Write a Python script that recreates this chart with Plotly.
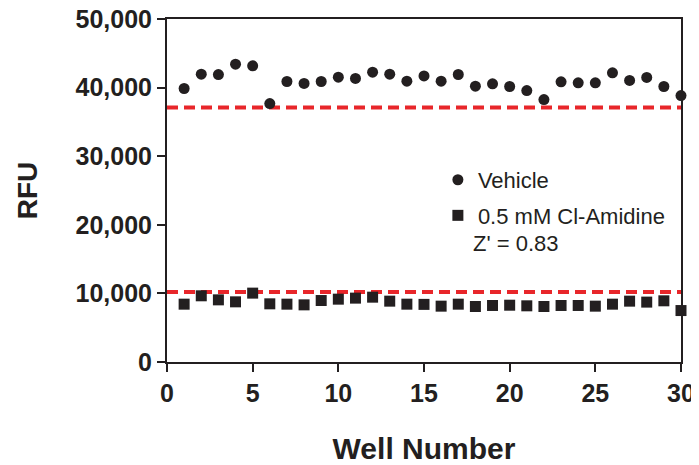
import plotly.graph_objects as go

wells = list(range(1, 31))
vehicle = [39870, 41960, 41900, 43420, 43170, 37670, 40890, 40600, 40890, 41520,
           41330, 42250, 41960, 40940, 41700, 40940, 41910, 40200, 40550, 40160,
           39570, 38250, 40840, 40690, 40690, 42150, 41040, 41480, 40160, 38840]
cl_amidine = [8430, 9650, 9060, 8770, 10040, 8480, 8430, 8330, 8960, 9160,
              9310, 9450, 8870, 8430, 8400, 8140, 8430, 8090, 8240, 8280,
              8190, 8090, 8240, 8240, 8140, 8430, 8870, 8730, 8920, 7500]
vehicle_cutoff = 37100
inhibitor_cutoff = 10200
x_span = [0, 30]
y_ticks = [0, 10000, 20000, 30000, 40000, 50000]
y_tick_labels = ["0", "10,000", "20,000", "30,000", "40,000", "50,000"]
x_ticks = [0, 5, 10, 15, 20, 25, 30]

ink = "#231f20"
red = "#e8262a"
font = "Liberation Sans"

fig = go.Figure()
for yv in (vehicle_cutoff, inhibitor_cutoff):
    fig.add_trace(go.Scatter(x=x_span, y=[yv, yv], mode="lines",
                             line=dict(color=red, width=4, dash="11px,6px"),
                             showlegend=False, hoverinfo="skip", cliponaxis=False))
fig.add_trace(go.Scatter(x=wells, y=vehicle, mode="markers", name="Vehicle",
                         legendgroup="a",
                         marker=dict(symbol="circle", size=11, color=ink),
                         cliponaxis=False))
fig.add_trace(go.Scatter(x=wells, y=cl_amidine, mode="markers", name="0.5 mM Cl-Amidine",
                         legendgroup="b",
                         marker=dict(symbol="square", size=11, color=ink),
                         cliponaxis=False))

# the page adds an 8px body margin, so the figure is sized to fill the rest
fig.update_layout(
    width=691, height=457,
    margin=dict(l=159, r=18, t=11, b=103, autoexpand=False),
    paper_bgcolor="white", plot_bgcolor="white",
    font=dict(family=font, color=ink),
    showlegend=True,
    legend=dict(x=0.527, y=0.592, xanchor="left", yanchor="top",
                font=dict(size=22, family=font, color=ink),
                bgcolor="rgba(0,0,0,0)", tracegroupgap=4,
                itemwidth=30, traceorder="grouped"),
    annotations=[dict(text="Z' = 0.83", xref="paper", yref="paper",
                      x=(471 - 167) / 514, y=(362 - 243) / 343,
                      xanchor="left", yanchor="middle", showarrow=False,
                      font=dict(size=22, family=font, color=ink))],
)
fig.update_xaxes(range=x_span, tickvals=x_ticks, showgrid=False, zeroline=False,
                 automargin=False, ticklabeloverflow="allow",
                 showline=True, linecolor=ink, linewidth=2, mirror=True,
                 ticks="outside", ticklen=8, tickwidth=2, tickcolor=ink,
                 tickfont=dict(size=25, family=font, color=ink, weight="bold"),
                 title=dict(text="Well Number", standoff=32,
                            font=dict(size=30, family=font, color=ink, weight="bold")))
fig.update_yaxes(range=[0, 50000], tickvals=y_ticks, ticktext=y_tick_labels,
                 showgrid=False, zeroline=False, automargin=False,
                 ticklabeloverflow="allow",
                 showline=True, linecolor=ink, linewidth=2, mirror=True,
                 ticks="outside", ticklen=8, tickwidth=2, tickcolor=ink,
                 tickfont=dict(size=25, family=font, color=ink, weight="bold"),
                 title=dict(text="RFU", standoff=30,
                            font=dict(size=28, family=font, color=ink, weight="bold")))

fig.write_html("out.html")
